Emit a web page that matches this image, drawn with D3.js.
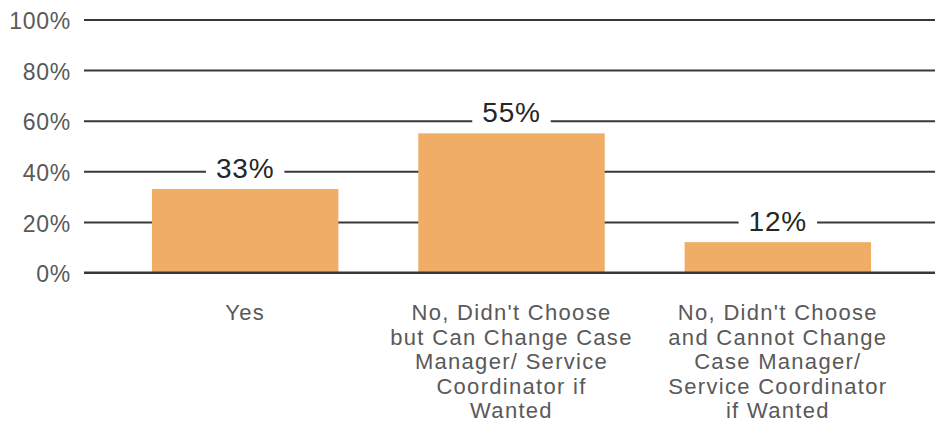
<!DOCTYPE html>
<html>
<head>
<meta charset="utf-8">
<script src="https://cdn.jsdelivr.net/npm/d3@7/dist/d3.min.js"></script>
<style>
  html, body { margin: 0; padding: 0; background: #fff; }
  svg { display: block; font-family: "Liberation Sans", Arial, sans-serif; }
</style>
</head>
<body>
<svg id="chart" width="935" height="423"></svg>
<script>
// Survey responses: share of respondents per answer
const categories = [
  ["Yes"],
  ["No, Didn't Choose", "but Can Change Case", "Manager/ Service", "Coordinator if", "Wanted"],
  ["No, Didn't Choose", "and Cannot Change", "Case Manager/", "Service Coordinator", "if Wanted"]
];
const values = [33, 55, 12];
const yTicks = [0, 20, 40, 60, 80, 100];

const svg = d3.select("#chart");
const W = 935;

const x = d3.scaleBand()
  .domain(d3.range(values.length))
  .range([112, 911])
  .paddingInner(0.3)
  .paddingOuter(0.15);

const y = d3.scaleLinear().domain([0, 100]).range([272.5, 19.5]);

// Gridlines with percentage tick labels
const yAxis = d3.axisLeft(y)
  .tickValues(yTicks)
  .tickFormat(d => d + "%")
  .tickSize(-(W - 84))
  .tickPadding(13);

const gy = svg.append("g")
  .attr("transform", "translate(84,0)")
  .call(yAxis);
gy.select(".domain").remove();
gy.selectAll(".tick line")
  .attr("stroke", "#383838")
  .attr("stroke-width", 2);
gy.selectAll(".tick text")
  .attr("fill", "#595959")
  .attr("font-size", 23)
  .attr("letter-spacing", 0.7)
  .attr("dy", "0.4em");

// Bars
svg.append("g").selectAll("rect")
  .data(values)
  .join("rect")
  .attr("x", (d, i) => x(i))
  .attr("width", x.bandwidth())
  .attr("y", d => y(d))
  .attr("height", d => y(0) - y(d))
  .attr("fill", "#efad66");

// Baseline redrawn over the bars
svg.append("line")
  .attr("x1", 84).attr("x2", W)
  .attr("y1", y(0)).attr("y2", y(0))
  .attr("stroke", "#383838")
  .attr("stroke-width", 2);

// Value labels on white backing boxes
const lab = svg.append("g").selectAll("g")
  .data(values)
  .join("g")
  .attr("transform", (d, i) => `translate(${x(i) + x.bandwidth() / 2},${y(d) - 11})`);

lab.append("text")
  .attr("text-anchor", "middle")
  .attr("font-size", 28)
  .attr("letter-spacing", 0.8)
  .attr("fill", "#262626")
  .text(d => d + "%");

lab.each(function () {
  const g = d3.select(this);
  const b = g.select("text").node().getBBox();
  g.insert("rect", "text")
    .attr("x", -(b.width + 20) / 2)
    .attr("width", b.width + 20)
    .attr("y", -26)
    .attr("height", 32)
    .attr("fill", "#fff");
});

// Category labels
const cat = svg.append("g").selectAll("text")
  .data(categories)
  .join("text")
  .attr("text-anchor", "middle")
  .attr("font-size", 22)
  .attr("letter-spacing", 1.3)
  .attr("fill", "#595959")
  .attr("transform", (d, i) => `translate(${x(i) + x.bandwidth() / 2},320)`);

cat.selectAll("tspan")
  .data(d => d)
  .join("tspan")
  .attr("x", 0)
  .attr("dy", (d, i) => i === 0 ? 0 : 24.5)
  .text(d => d);
</script>
</body>
</html>
